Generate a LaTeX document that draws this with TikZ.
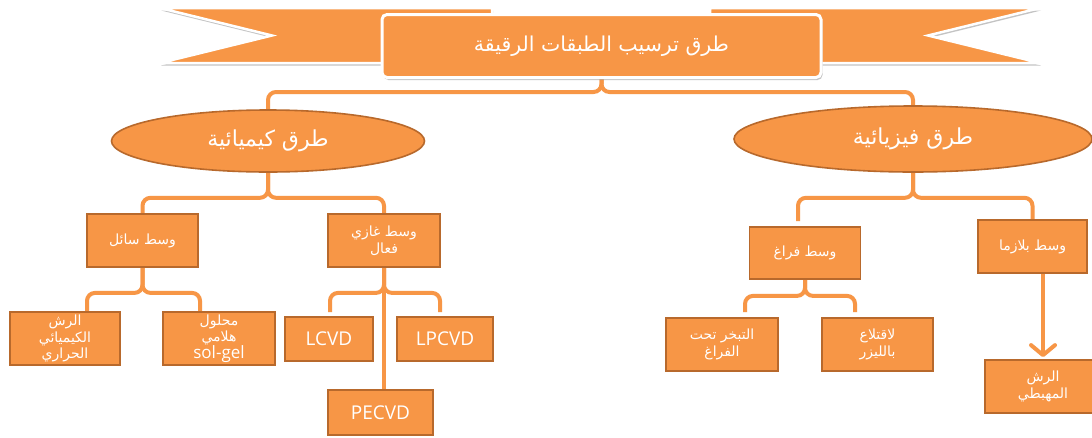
\documentclass[tikz,border=0pt]{standalone}
\usepackage{fontspec}
\usetikzlibrary{shapes.geometric,arrows.meta,calc,shadows,backgrounds}
\TeXXeTstate=1
\newfontfamily\arabicfont[Script=Arabic]{DejaVu Sans}
\newfontfamily\latinfont{Open Sans}
\definecolor{accent}{HTML}{F79646}
\definecolor{rim}{HTML}{B8692C}
\definecolor{shadowgray}{HTML}{9C9C9C}
\newcommand\rtl[1]{\beginR #1\endR}

\begin{document}
\begin{tikzpicture}[x=1pt,y=-1pt,
  box/.style={rectangle, draw=rim, line width=1.8pt, fill=accent, text=white,
    align=center, inner sep=1pt, font=\arabicfont\fontsize{14}{16.5}\selectfont},
  latinbox/.style={box, font=\latinfont\fontsize{19}{22}\selectfont},
  oval/.style={ellipse, draw=rim, line width=1.6pt, fill=accent, text=white,
    inner sep=0pt, font=\arabicfont\fontsize{22}{26}\selectfont},
  titlebox/.style={rectangle, rounded corners=5pt, draw=white, line width=3pt,
    fill=accent, text=white, minimum width=439pt, minimum height=63pt,
    font=\arabicfont\fontsize{20.5}{24}\selectfont,
    drop shadow={shadow xshift=1.5pt, shadow yshift=-2.5pt, fill=shadowgray, opacity=.6}},
  tail/.style={fill=accent, draw=white, line width=2.5pt, line join=miter,
    drop shadow={shadow xshift=1pt, shadow yshift=-2.5pt, fill=shadowgray, opacity=.6}},
  link/.style={draw=accent, line width=4pt, rounded corners=8pt},
  arrowlink/.style={draw=accent, line width=4pt,
    -{Straight Barb[length=10pt,width=24pt,round]}, shorten >=2pt}]
\useasboundingbox (0,0) rectangle (1092,437);

% banner tails behind the title
\path[tail] (160,8) -- (492,8) -- (492,63) -- (160,63) -- (272,35.5) -- cycle;
\path[tail] (1040,8) -- (710,8) -- (710,63) -- (1040,63) -- (928,35.5) -- cycle;

% title banner
\node[titlebox] (title) at (601.5,46) {\rtl{طرق ترسيب الطبقات الرقيقة}};

% two families of methods
\node[oval, minimum width=313pt, minimum height=62pt] (chem) at (268,141) {\rtl{طرق كيميائية}};
\node[oval, minimum width=358pt, minimum height=66pt] (phys) at (913,139) {\rtl{طرق فيزيائية}};

% chemical branch
\node[box, minimum width=111pt, minimum height=53pt] (liq) at (142.5,240.5) {\rtl{وسط سائل}};
\node[box, minimum width=112pt, minimum height=53pt] (gas) at (384,240.5) {\rtl{وسط غازي}\\\rtl{فعال}};
\node[box, minimum width=110pt, minimum height=53pt] (spray) at (65,338.5)
  {\rtl{الرش}\\\rtl{الكيميائي}\\\rtl{الحراري}};
\node[box, minimum width=112pt, minimum height=53pt] (solgel) at (219,338.5)
  {\rtl{محلول}\\\rtl{هلامي}\\{\latinfont\fontsize{17}{17}\selectfont sol-gel}};
\node[latinbox, minimum width=88pt, minimum height=44pt] (lcvd) at (329,339) {LCVD};
\node[latinbox, minimum width=96pt, minimum height=44pt] (lpcvd) at (445,339) {LPCVD};
\node[latinbox, minimum width=105pt, minimum height=45pt] (pecvd) at (380.5,412.5) {PECVD};

% physical branch
\node[box, minimum width=111pt, minimum height=52pt] (vac) at (805,253) {\rtl{وسط فراغ}};
\node[box, minimum width=109pt, minimum height=53pt] (plasma) at (1032.5,246.5) {\rtl{وسط بلازما}};
\node[box, minimum width=112pt, minimum height=53pt] (evap) at (722,344.5) {\rtl{التبخر تحت}\\\rtl{الفراغ}};
\node[box, minimum width=111pt, minimum height=53pt] (laser) at (877.5,344.5) {\rtl{لاقتلاع}\\\rtl{بالليزر}};
\node[box, minimum width=116pt, minimum height=53pt] (sputter) at (1043,386.5) {\rtl{الرش}\\\rtl{المهبطي}};

% brace-shaped connectors
\coordinate (tj) at ($(title.south)+(0,13)$);
\coordinate (cj) at ($(chem.south)+(0,25)$);
\coordinate (pj) at ($(phys.south)+(0,25)$);
\coordinate (lj) at ($(liq.south)+(0,25)$);
\coordinate (gj) at ($(gas.south)+(0,25)$);
\coordinate (vj) at ($(vac.south)+(0,16)$);
\coordinate (sprayLeg) at (87,311);
\coordinate (solLeg) at (200,311);
\coordinate (lcvdLeg) at (330,312);
\coordinate (lpcvdLeg) at (440,312);
\coordinate (vacLeg) at (798,221);
\coordinate (evapLeg) at (745,312);
\coordinate (laserLeg) at (855,312);

\begin{scope}[on background layer]
\fill[white] (0,0) rectangle (1092,437);
\draw[link] (chem.north) |- (tj) -- (title.south);
\draw[link] (phys.north) |- (tj) -- (title.south);
\draw[link] (liq.north) |- (cj) -- (chem.south);
\draw[link] (gas.north) |- (cj) -- (chem.south);
\draw[link] (sprayLeg) |- (lj) -- (liq.south);
\draw[link] (solLeg) |- (lj) -- (liq.south);
\draw[link] (lcvdLeg) |- (gj) -- (gas.south);
\draw[link] (lpcvdLeg) |- (gj) -- (gas.south);
\draw[link] (gas.south) -- (gas.south |- pecvd.north);
\draw[link] (vacLeg) |- (pj) -- (phys.south);
\draw[link] (plasma.north) |- (pj) -- (phys.south);
\draw[link] (evapLeg) |- (vj) -- (vac.south);
\draw[link] (laserLeg) |- (vj) -- (vac.south);
\end{scope}
\draw[arrowlink] (plasma.south -| sputter.north) -- (sputter.north);
\end{tikzpicture}
\end{document}
